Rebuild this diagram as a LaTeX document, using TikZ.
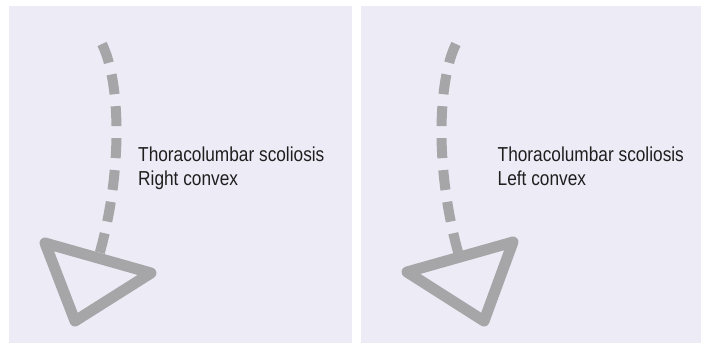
\documentclass[tikz,border=0pt]{standalone}
\usepackage{fontspec}
\setmainfont{Liberation Sans}
\definecolor{panelbg}{HTML}{EDEBF6}
\definecolor{spinegray}{HTML}{A6A6A8}
\newcommand{\condtxt}[1]{\scalebox{0.855}[1]{#1}}
\begin{document}
\begin{tikzpicture}[x=1pt,y=-1pt,
  panel/.style={fill=panelbg,draw=none},
  spine/.style={draw=spinegray,line width=10pt,dash pattern=on 20pt off 12pt,line cap=butt},
  headtri/.style={draw=spinegray,line width=11pt,line join=round},
  label/.style={anchor=base west,inner sep=0pt,font=\fontsize{20.2}{24}\selectfont,text=black!88}]
\useasboundingbox (0,0) rectangle (701,343);
\fill[white] (0,0) rectangle (701,343);
% panels
\path[panel] (9,6) rectangle (352,343);
\path[panel] (361,6) rectangle (701,343);
% left panel
\coordinate (ls) at (102,44);
\coordinate (le) at (98,259);
\coordinate (la) at (45,243);
\coordinate (lb) at (151,273);
\coordinate (lc) at (75,321);
\draw[spine] (ls) .. controls (120,80) and (124,170) .. (le);
\draw[headtri] (la) -- (lb) -- (lc) -- cycle;
\node[label] (lt1) at (138,161) {\condtxt{Thoracolumbar scoliosis}};
\node[label] (lt2) at (138,185.5) {\condtxt{Right convex}};
% right panel
\coordinate (rs) at (456,44);
\coordinate (re) at (460,259);
\coordinate (ra) at (513,242);
\coordinate (rb) at (407,272);
\coordinate (rc) at (484,321);
\draw[spine] (rs) .. controls (438,80) and (434,170) .. (re);
\draw[headtri] (ra) -- (rb) -- (rc) -- cycle;
\node[label] (rt1) at (497.5,161) {\condtxt{Thoracolumbar scoliosis}};
\node[label] (rt2) at (497.5,185.5) {\condtxt{Left convex}};
\end{tikzpicture}
\end{document}
